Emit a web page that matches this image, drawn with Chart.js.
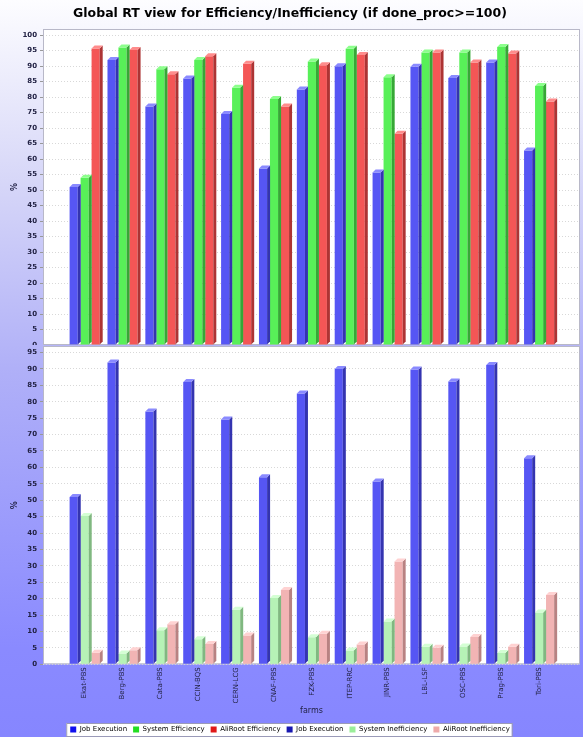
<!DOCTYPE html>
<html>
<head>
<meta charset="utf-8">
<script src="https://cdn.jsdelivr.net/npm/chart.js@4.4.1/dist/chart.umd.min.js"></script>
<style>
  html, body { margin: 0; padding: 0; }
  body {
    width: 583px; height: 737px; overflow: hidden; position: relative;
    background: linear-gradient(to bottom, #fdfdff 0%, #d6d6f8 25%, #b0b0f8 50%, #8a8aff 88%, #8686ff 100%);
  }
  #top { position: absolute; left: 0; top: 0; width: 583px; height: 345px; }
  #bottom { position: absolute; left: 0; top: 346px; width: 583px; height: 398px; }
</style>
</head>
<body>
<div id="top"><canvas id="effChart"></canvas></div>
<div id="bottom"><canvas id="ineffChart"></canvas></div>
<script>
// Data
const farms = ['Ekat-PBS', 'Berg-PBS', 'Cata-PBS', 'CCIN-BQS', 'CERN-LCG', 'CNAF-PBS', 'FZK-PBS',
               'ITEP-RRC', 'JINR-PBS', 'LBL-LSF', 'OSC-PBS', 'Prag-PBS', 'Tori-PBS'];
const jobExecution        = [51, 92, 77, 86, 74.6, 57, 82.5, 90, 55.7, 89.8, 86.2, 91.2, 62.8];
const systemEfficiency    = [54, 96, 89, 92, 83, 79.4, 91.5, 95.6, 86.4, 94.4, 94.4, 96.2, 83.6];
const alirootEfficiency   = [95.7, 95.2, 87.4, 93.2, 90.8, 77, 90.3, 93.6, 68.2, 94.4, 91.2, 94.1, 78.6];
const systemInefficiency  = [45.2, 3.3, 10.4, 7.6, 16.6, 20.2, 8.2, 4.2, 13, 5.3, 5.4, 3.4, 15.8];
const alirootInefficiency = [3.5, 4.3, 12.2, 6.2, 8.8, 22.6, 9.3, 6, 31.3, 5, 8.3, 5.3, 21.1];

const legendNames  = ['Job Execution', 'System Efficiency', 'AliRoot Efficiency',
                      'Job Execution', 'System Inefficiency', 'AliRoot Inefficiency'];
const legendColors = ['#1010ee', '#22dd22', '#e01818', '#1818b0', '#9aee9a', '#eeaaaa'];

const topMax = 102;
const bottomMax = 97;

// Colours: front, side, top
const blue   = ['#5656f4', '#3434b0', '#8a8aff'];
const green  = ['#58f058', '#36a836', '#8cff8c'];
const red    = ['#f45656', '#ad3434', '#ff8c8c'];
const lgreen = ['#b6f2b6', '#80b880', '#d4ffd4'];
const pink   = ['#f2b4b4', '#b88282', '#ffd2d2'];

function series(label, values, col) {
  return {
    label: label,
    data: values.map((v, i) => ({ x: i, y: v })),
    backgroundColor: col[0],
    sideColor: col[1],
    topColor: col[2],
    borderWidth: 0,
    categoryPercentage: 0.87,
    barPercentage: 0.74
  };
}

// plot background + frame
const plotFrame = {
  id: 'plotFrame',
  beforeDraw(chart) {
    const a = chart.chartArea, ctx = chart.ctx;
    ctx.save();
    ctx.fillStyle = '#ffffff';
    ctx.fillRect(a.left, a.top, a.right - a.left, a.bottom - a.top);
    // legend white box
    if (chart.options.plugins.legend.display && chart.legend && chart.legend.legendHitBoxes.length) {
      const hb = chart.legend.legendHitBoxes;
      const l = hb[0].left - 4, t = hb[0].top - 3;
      const last = hb[hb.length - 1];
      const r = last.left + last.width + 2;
      ctx.fillStyle = '#ffffff';
      ctx.fillRect(l, t, r - l, hb[0].height + 6);
      ctx.strokeStyle = '#9a9ab8';
      ctx.lineWidth = 1;
      ctx.strokeRect(l + 0.5, t + 0.5, r - l, hb[0].height + 6);
    }
    ctx.restore();
  },
  beforeDatasetsDraw(chart) {
    const a = chart.chartArea, ctx = chart.ctx;
    ctx.save();
    ctx.strokeStyle = '#b8b8c8';
    ctx.lineWidth = 1;
    ctx.strokeRect(a.left + 0.5, a.top + 0.5, a.right - a.left - 1, a.bottom - a.top - 1);
    ctx.restore();
  }
};

// fake 3D extrusion on every bar
const bar3d = {
  id: 'bar3d',
  afterDatasetsDraw(chart) {
    const ctx = chart.ctx;
    const dx = 3, dy = 3;
    ctx.save();
    chart.data.datasets.forEach((ds, di) => {
      chart.getDatasetMeta(di).data.forEach(bar => {
        const p = bar.getProps(['x', 'y', 'base', 'width'], true);
        const l = p.x - p.width / 2, r = p.x + p.width / 2;
        ctx.fillStyle = ds.sideColor;
        ctx.beginPath();
        ctx.moveTo(r, p.y); ctx.lineTo(r + dx, p.y - dy);
        ctx.lineTo(r + dx, p.base - dy); ctx.lineTo(r, p.base);
        ctx.closePath(); ctx.fill();
        ctx.fillStyle = ds.topColor;
        ctx.beginPath();
        ctx.moveTo(l, p.y); ctx.lineTo(l + dx, p.y - dy);
        ctx.lineTo(r + dx, p.y - dy); ctx.lineTo(r, p.y);
        ctx.closePath(); ctx.fill();
      });
    });
    ctx.restore();
  }
};

function chartOptions(max, bottomChart) {
  return {
    responsive: true,
    maintainAspectRatio: false,
    animation: false,
    layout: { padding: bottomChart ? { top: 0, right: 3, bottom: 1 } : { top: 2, right: 3, bottom: 0 } },
    scales: {
      x: {
        type: 'linear',
        min: -1.1,
        max: 13.08,
        offset: false,
        afterFit: s => { s.paddingLeft = 0; s.paddingRight = 0; },
        grid: { display: false, drawTicks: false },
        border: { display: false },
        ticks: {
          display: bottomChart,
          stepSize: 1,
          autoSkip: false,
          includeBounds: false,
          minRotation: 90,
          maxRotation: 90,
          padding: 3,
          color: '#222244',
          font: { family: 'DejaVu Sans', size: 7 },
          callback: v => (Number.isInteger(v) && farms[v]) ? farms[v] : ''
        },
        title: {
          display: bottomChart,
          text: 'farms',
          color: '#222244',
          font: { family: 'DejaVu Sans', size: 8 },
          padding: { top: 0, bottom: 4 }
        }
      },
      y: {
        min: 0,
        max: max,
        afterFit: s => { s.width = 43; s.paddingTop = 0; s.paddingBottom = 0; },
        grid: { color: '#d8d8d8', tickColor: '#999999', tickLength: 3, tickBorderDash: [] },
        border: { display: false, dash: [1, 2] },
        ticks: {
          stepSize: 5,
          includeBounds: false,
          padding: 3,
          color: '#222244',
          font: { family: 'DejaVu Sans', size: 7, weight: 'bold' },
          callback: v => (v % 5 === 0) ? v : ''
        },
        title: {
          display: true,
          text: '%',
          color: '#222244',
          font: { family: 'DejaVu Sans', size: 8, weight: 'bold' },
          padding: { top: 10, bottom: 0 }
        }
      }
    },
    plugins: {
      tooltip: { enabled: false },
      title: {
        display: !bottomChart,
        text: 'Global RT view for Efficiency/Inefficiency (if done_proc>=100)',
        color: '#000000',
        font: { family: 'DejaVu Sans', size: 12.5, weight: 'bold' },
        padding: { top: 4, bottom: 8 }
      },
      legend: {
        display: bottomChart,
        position: 'bottom',
        labels: {
          boxWidth: 6,
          boxHeight: 6,
          padding: 6,
          color: '#222244',
          font: { family: 'DejaVu Sans', size: 7 },
          generateLabels: () => legendNames.map((n, i) => ({
            text: n, fillStyle: legendColors[i], strokeStyle: legendColors[i], lineWidth: 0, datasetIndex: i
          }))
        }
      }
    }
  };
}

new Chart(document.getElementById('effChart').getContext('2d'), {
  type: 'bar',
  data: {
    datasets: [
      series('Job Execution', jobExecution, blue),
      series('System Efficiency', systemEfficiency, green),
      series('AliRoot Efficiency', alirootEfficiency, red)
    ]
  },
  options: chartOptions(topMax, false),
  plugins: [plotFrame, bar3d]
});

new Chart(document.getElementById('ineffChart').getContext('2d'), {
  type: 'bar',
  data: {
    datasets: [
      series('Job Execution', jobExecution, blue),
      series('System Inefficiency', systemInefficiency, lgreen),
      series('AliRoot Inefficiency', alirootInefficiency, pink)
    ]
  },
  options: chartOptions(bottomMax, true),
  plugins: [plotFrame, bar3d]
});
</script>
</body>
</html>
